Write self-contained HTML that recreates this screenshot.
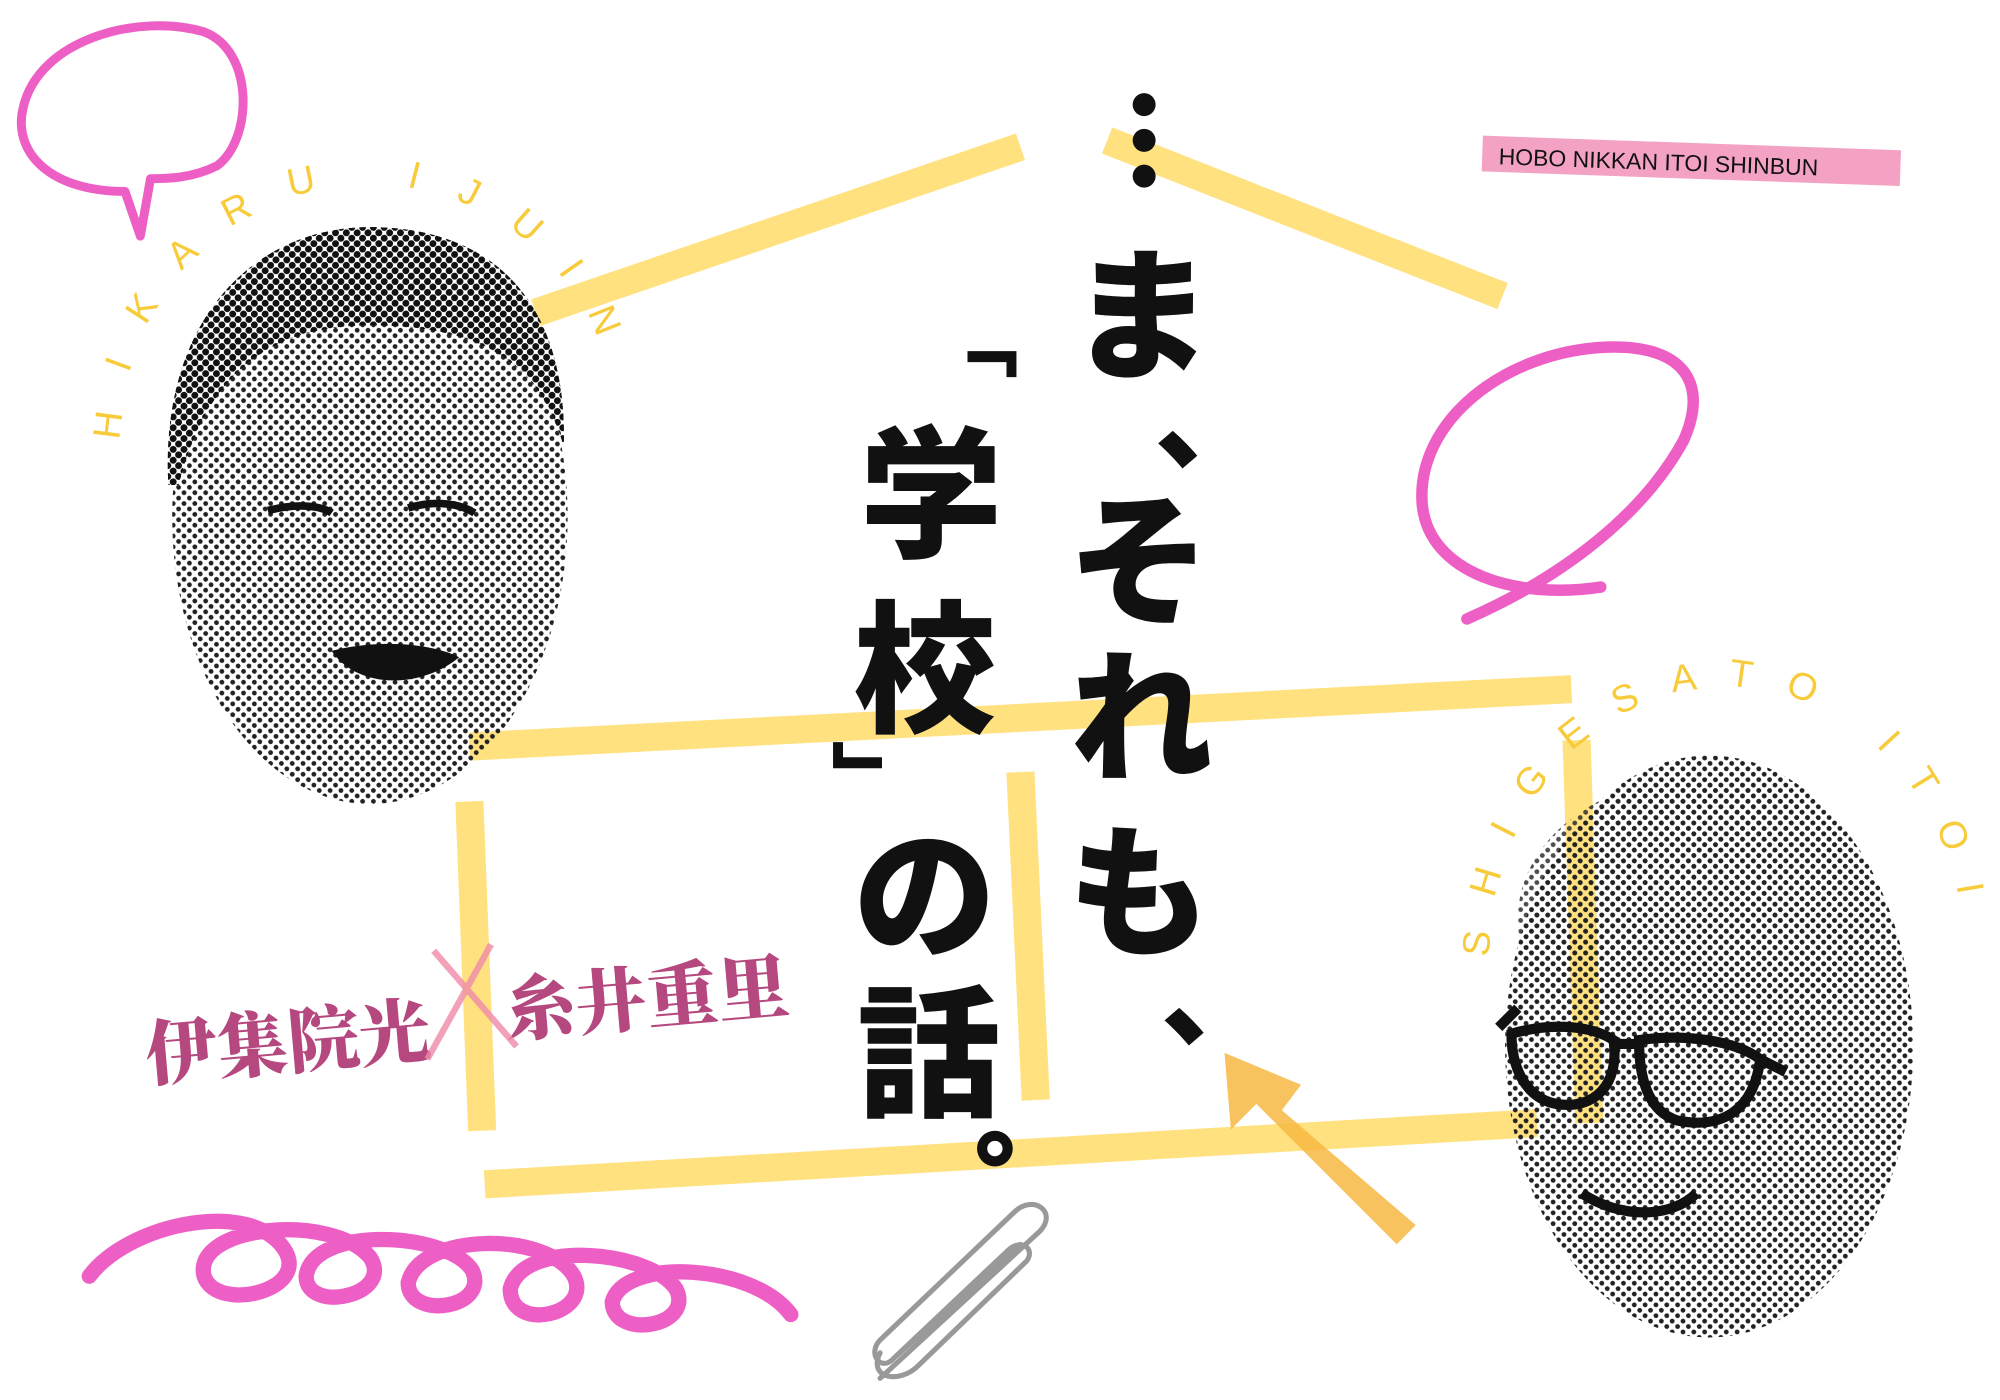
<!DOCTYPE html>
<html><head><meta charset="utf-8"><style>
html,body{margin:0;padding:0;background:#fff;}
svg{display:block;}
</style></head><body>
<svg width="2000" height="1400" viewBox="0 0 1568 1097" preserveAspectRatio="none" xmlns="http://www.w3.org/2000/svg">
<defs>
<pattern id="dots" width="6" height="6" patternUnits="userSpaceOnUse" patternTransform="rotate(45)">
<circle cx="3" cy="3" r="2.6" fill="#111"/></pattern>
<pattern id="dotsL" width="6" height="6" patternUnits="userSpaceOnUse" patternTransform="rotate(45)">
<circle cx="3" cy="3" r="1.9" fill="#222"/></pattern>
<path id="arcL" d="M95,345 A195,200 0 0 1 485,345"/>
<path id="arcR" d="M1168,750 A180,205 0 0 1 1540,750"/>
</defs>

<!-- speech bubble -->
<path d="M110,185 L98,150 C40,150 10,120 18,85 C30,30 110,10 160,25 C200,40 198,110 170,130 C150,140 130,140 118,140 Z" fill="none" stroke="#ee5fc5" stroke-width="7" stroke-linejoin="round"/>

<!-- yellow house -->
<g stroke="#ffe07a" stroke-width="22" stroke-linecap="butt" opacity="0.95">
<line x1="420" y1="245" x2="800" y2="115"/>
<line x1="868" y1="110" x2="1178" y2="232"/>
<line x1="368" y1="585" x2="1232" y2="540"/>
<line x1="368" y1="628" x2="378" y2="886"/>
<line x1="800" y1="605" x2="812" y2="862"/>
<line x1="1236" y1="580" x2="1246" y2="880"/>
<line x1="380" y1="928" x2="1205" y2="880"/>
</g>

<!-- faces -->
<ellipse cx="290" cy="405" rx="155" ry="225" fill="url(#dotsL)"/>
<path d="M132,380 C125,250 200,178 290,178 C385,178 445,235 442,350 C425,290 385,255 290,255 C205,255 160,300 140,380 Z" fill="url(#dots)"/>
<path d="M132,380 C125,250 200,178 290,178 C385,178 445,235 442,350 C425,290 385,255 290,255 C205,255 160,300 140,380 Z" fill="url(#dots)"/>
<path d="M260,510 C300,500 340,505 360,515 C330,540 280,540 260,510Z" fill="#111"/>
<path d="M210,400 C230,395 250,395 260,402" stroke="#111" stroke-width="6" fill="none"/>
<path d="M320,398 C340,392 360,394 372,402" stroke="#111" stroke-width="6" fill="none"/>

<ellipse cx="1340" cy="820" rx="160" ry="228" fill="url(#dotsL)"/>
<ellipse cx="1330" cy="720" rx="140" ry="110" fill="url(#dotsL)" opacity="0.8"/>
<g fill="none" stroke="#111" stroke-width="8">
<path d="M1185,810 C1220,800 1250,805 1265,815 C1270,850 1250,870 1220,865 C1195,860 1185,835 1185,810Z"/>
<path d="M1285,815 C1320,810 1360,815 1380,830 C1375,870 1350,885 1315,878 C1290,870 1285,840 1285,815Z"/>
<path d="M1265,818 L1285,818 M1380,830 L1400,840 M1175,805 L1190,790"/>
<path d="M1240,935 C1270,955 1310,955 1330,935"/>
</g>

<!-- circular names -->
<text font-family="Liberation Sans, sans-serif" font-size="30" fill="#f7cb3a" letter-spacing="31"><textPath href="#arcL">HIKARU IJUIN</textPath></text>
<text font-family="Liberation Sans, sans-serif" font-size="30" fill="#f7cb3a" letter-spacing="26"><textPath href="#arcR">SHIGESATO ITOI</textPath></text>

<!-- tape -->
<g transform="rotate(2 1325 126)">
<rect x="1162" y="112" width="328" height="28" fill="#f4a2c4"/>
<text x="1175" y="134" font-family="Liberation Sans, sans-serif" font-size="18" fill="#111">HOBO NIKKAN ITOI SHINBUN</text>
</g>

<!-- pink 9 loop -->
<path d="M1255,460 C1190,470 1120,450 1115,395 C1110,330 1180,275 1260,272 C1320,270 1340,300 1320,345 C1290,400 1230,450 1150,485" fill="none" stroke="#ee5fc5" stroke-width="9" stroke-linecap="round"/>

<!-- names -->
<g transform="rotate(-5 360 790)">
<text x="112" y="825" font-family="Noto Serif CJK SC, serif" font-weight="900" font-size="56" fill="#b5487e">伊集院光</text>
<text x="395" y="815" font-family="Noto Serif CJK SC, serif" font-weight="900" font-size="56" fill="#b5487e">糸井重里</text>
</g>
<path d="M340,745 L405,820 M385,740 L335,830" stroke="#f08aa8" stroke-width="5" opacity="0.8"/>

<!-- title -->
<g font-family="Noto Sans CJK JP, sans-serif" font-weight="900" font-size="112" fill="#111" text-anchor="middle">
<circle cx="897" cy="82" r="9"/><circle cx="897" cy="110" r="9"/><circle cx="897" cy="138" r="9"/>
<text x="895" y="288">ま</text>
<text x="950" y="360" font-size="90">、</text>
<text x="893" y="480">そ</text>
<text x="895" y="603">れ</text>
<text x="893" y="740">も</text>
<text x="955" y="812" font-size="90">、</text>
<text x="0" y="0" font-size="60" transform="translate(745,267) rotate(90)">「</text>
<text x="730" y="428">学</text>
<text x="725" y="565">校</text>
<text x="0" y="0" font-size="60" transform="translate(659,610) rotate(90)">」</text>
<text x="725" y="742">の</text>
<text x="728" y="866">話</text>
<circle cx="780" cy="900" r="14"/><circle cx="780" cy="900" r="6" fill="#fff"/>
</g>

<!-- arrow -->
<path d="M1110,960 L1005,870 L1020,850 L960,825 L965,885 L985,865 L1095,975 Z" fill="#f7b942" opacity="0.85"/>

<!-- pink spiral -->
<path d="M70,1000 C100,960 190,940 220,975 C250,1010 170,1030 160,1000 C150,960 260,950 290,985 C310,1015 240,1030 240,1000 C245,960 350,965 370,995 C385,1025 320,1035 320,1005 C330,965 430,965 450,1000 C465,1030 400,1045 400,1010 C410,970 510,980 530,1010 C545,1040 480,1050 480,1020 C490,985 590,990 620,1030" fill="none" stroke="#ee5fc5" stroke-width="12" stroke-linecap="round"/>

<!-- paperclip -->
<path d="M690,1080 L815,965 C830,950 810,935 795,950 L690,1050 C680,1060 690,1075 700,1065 L800,975 M700,1065 L790,980 C800,970 812,978 805,988 L720,1070 C705,1085 680,1080 690,1060" fill="none" stroke="#999" stroke-width="4" stroke-linecap="round"/>
</svg>
</body></html>
